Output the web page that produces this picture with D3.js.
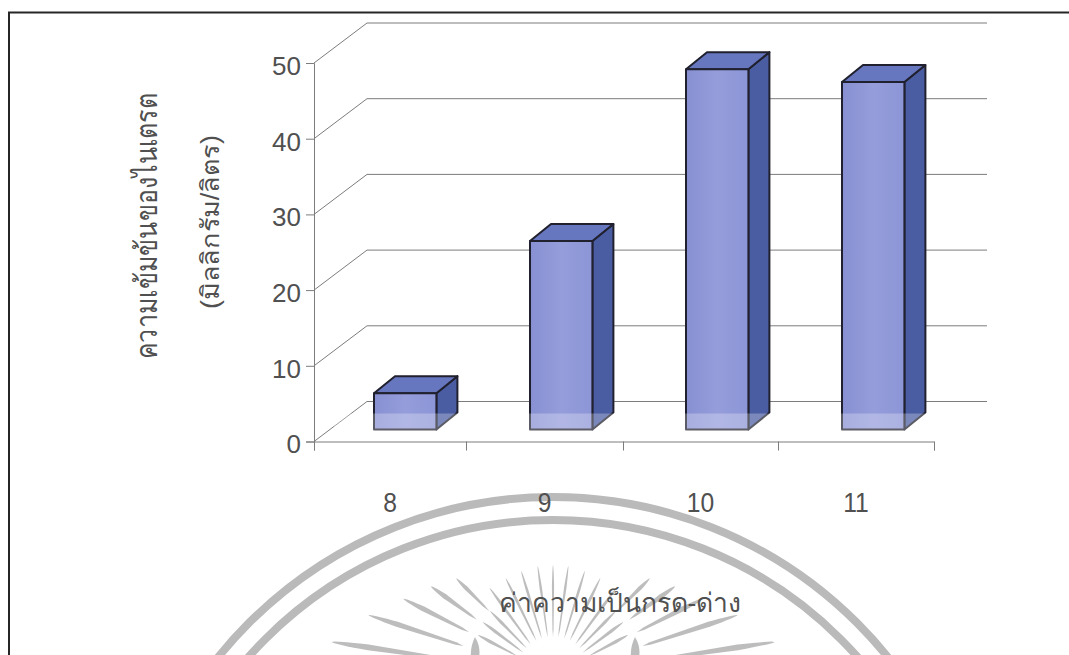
<!DOCTYPE html>
<html lang="th">
<head>
<meta charset="utf-8">
<style>
  html, body { margin: 0; padding: 0; background: #fff; }
  svg { display: block; }
  text { font-family: "Liberation Sans", "Noto Sans", "DejaVu Sans", sans-serif; fill: #505050; }
</style>
</head>
<body>
<svg id="chart" width="1069" height="655"></svg>
<script src="https://cdn.jsdelivr.net/npm/d3@7/dist/d3.min.js"></script>
<script>
// Nitrate concentration by pH
const categories = ["8", "9", "10", "11"];
const nitrate = [4.8, 24.9, 47.6, 45.9];
const yTicks = [0, 10, 20, 30, 40, 50];
const yTitleLines = ["ความเข้มข้นของไนเตรต", "(มิลลิกรัม/ลิตร)"];
const xTitle = "ค่าความเป็นกรด-ด่าง";

// Sun-ray emblem behind the lower part of the page: [angle, inner radius, outer radius, half width]
const emblemRays = [
  [0, 38, 110, 1.1], [8, 38, 110, 1.2], [-8, 38, 110, 1.2],
  [17, 38, 109, 1.3], [-17, 38, 109, 1.3], [26, 38, 108, 1.4], [-26, 38, 108, 1.4],
  [36, 38, 108, 1.5], [-36, 38, 108, 1.5],
  [45, 90, 137, 2], [-45, 90, 137, 2], [54, 94, 151, 2.4], [-54, 94, 151, 2.4],
  [63, 94, 168, 2.5], [-63, 94, 168, 2.5], [72, 94, 194, 2.6], [-72, 94, 194, 2.6],
  [81.5, 100, 224, 2.8], [-81.5, 100, 224, 2.8],
  [44.5, 37, 90, 1.5], [-44.5, 37, 90, 1.5], [53, 37, 88, 1.7], [-53, 37, 88, 1.7],
  [62, 40, 85, 1.7], [-62, 40, 85, 1.7]
];
const emblemArcs = [430, 407];

const svg = d3.select("#chart");
const plot = { left: 314, right: 934, top: 63, bottom: 441.5 };
const wall = { dx: 53, dy: -40 };
const bar = { lift: 12, dx: 21, dy: -17 };

// Tick edges of the category axis are slightly uneven, so the scale is piecewise
const xEdges = d3.scaleLinear().domain([0, 1, 2, 3, 4]).range([plot.left, 466, 623, 778, plot.right]);
const xBar = d3.scaleBand().domain(categories).range([327.2, 951.2])
  .paddingInner(0.6).paddingOuter(0.3);
const y = d3.scaleLinear().domain([0, 50]).range([plot.bottom, plot.top]);

// Emblem
const emblem = svg.append("g");
const cx = 553, topArc = 927, rayY = 675;
emblem.selectAll("circle").data(emblemArcs).join("circle")
  .attr("cx", cx).attr("cy", topArc).attr("r", d => d)
  .attr("fill", "none").attr("stroke", "#bababa").attr("stroke-width", 8);
emblem.selectAll("path.ray").data(emblemRays).join("path").attr("class", "ray")
  .attr("fill", "#bdbdbd")
  .attr("transform", d => `translate(${cx},${rayY}) rotate(${d[0]})`)
  .attr("d", d => {
    const [, r0, r1, w] = d, m = r1 - (r1 - r0) * 0.3;
    return `M0,${-r0} L${w * 0.5},${-(r0 + 8)} L${w},${-m} Q${w * 0.6},${-r1 + 2} 0,${-r1} Q${-w * 0.6},${-r1 + 2} ${-w},${-m} L${-w * 0.5},${-(r0 + 8)} Z`;
  });
emblem.selectAll("path.flame").data([-78, 82]).join("path").attr("class", "flame")
  .attr("fill", "#bdbdbd")
  .attr("transform", d => `translate(${cx + d},647)`)
  .attr("d", "M0,-10 Q6,0 4,10 L-4,10 Q-5,0 0,-10 Z");

// Page frame
svg.append("path").attr("d", "M9,655 V12.5 H1069")
  .attr("fill", "none").attr("stroke", "#262626").attr("stroke-width", 2);

// Back wall and side wall gridlines
const grid = svg.append("g").attr("fill", "none").attr("stroke", "#7c7c7c").attr("stroke-width", 1);
grid.selectAll("path").data(yTicks).join("path")
  .attr("d", d => `M${plot.left},${y(d)} L${plot.left + wall.dx},${y(d) + wall.dy} H${plot.right + wall.dx}`);

// Value axis
const yAxis = svg.append("g").attr("transform", `translate(${plot.left},0)`)
  .call(d3.axisLeft(y).tickValues(yTicks).tickSize(8).tickPadding(5));
yAxis.selectAll("text").style("font-size", "26px").style("font-family", "'Liberation Sans'")
  .attr("fill", "#505050").attr("y", 3);
yAxis.selectAll("line, path").attr("stroke", "#7c7c7c");

// Category axis: ticks sit on the band edges, labels at band centres
const xAxis = svg.append("g").attr("transform", `translate(0,${plot.bottom})`)
  .call(d3.axisBottom(xEdges).tickValues([0, 1, 2, 3, 4]).tickSize(9).tickFormat(""));
xAxis.selectAll("line, path").attr("stroke", "#7c7c7c");
svg.append("g").selectAll("text").data(categories).join("text")
  .attr("transform", (d, i) => `translate(${xEdges(i + 0.5)},512) scale(0.88,1)`)
  .attr("text-anchor", "middle").attr("font-size", 28)
  .text(d => d);

// Bars: each is a front face, a top and a right side
const bars = svg.append("g").attr("stroke", "#20202e").attr("stroke-width", 2).attr("stroke-linejoin", "round");
const rows = categories.map((c, i) => ({ c, v: nitrate[i] }));
const bx = d => xBar(d.c);
const by = d => y(d.v) - bar.lift;
const by0 = y(0) - bar.lift;
const bw = xBar.bandwidth();

const defs = svg.append("defs");
const frontGrad = defs.append("linearGradient").attr("id", "front").attr("x1", 0).attr("x2", 1);
frontGrad.append("stop").attr("offset", 0).attr("stop-color", "#8790d2");
frontGrad.append("stop").attr("offset", 0.5).attr("stop-color", "#959ddb");
frontGrad.append("stop").attr("offset", 1).attr("stop-color", "#8c95d6");

bars.selectAll("path.side").data(rows).join("path").attr("class", "side").attr("fill", "#4a5da3")
  .attr("d", d => `M${bx(d) + bw},${by(d)} l${bar.dx},${bar.dy} V${by0 + bar.dy} l${-bar.dx},${-bar.dy} Z`);
bars.selectAll("path.top").data(rows).join("path").attr("class", "top").attr("fill", "#6676bf")
  .attr("d", d => `M${bx(d)},${by(d)} l${bar.dx},${bar.dy} h${bw} l${-bar.dx},${-bar.dy} Z`);
bars.selectAll("rect").data(rows).join("rect").attr("fill", "url(#front)")
  .attr("x", bx).attr("y", by).attr("width", bw).attr("height", d => by0 - by(d));

// Pale strip across the foot of the bars
svg.append("rect").attr("x", plot.left + 20).attr("y", 413.5)
  .attr("width", plot.right - plot.left).attr("height", 17.5)
  .attr("fill", "#fff").attr("opacity", 0.27);

// Axis titles
svg.append("g").selectAll("text").data(yTitleLines).join("text")
  .attr("transform", (d, i) => i
    ? "translate(219,222) rotate(-90) scale(1.08,1)"
    : "translate(157,226) rotate(-90) scale(1,1.2)")
  .attr("text-anchor", "middle").attr("font-size", 25)
  .text(d => d);
svg.append("text").attr("x", 620).attr("y", 612).attr("text-anchor", "middle")
  .attr("font-size", 26.5).attr("fill", "#444").text(xTitle);
</script>
</body>
</html>
